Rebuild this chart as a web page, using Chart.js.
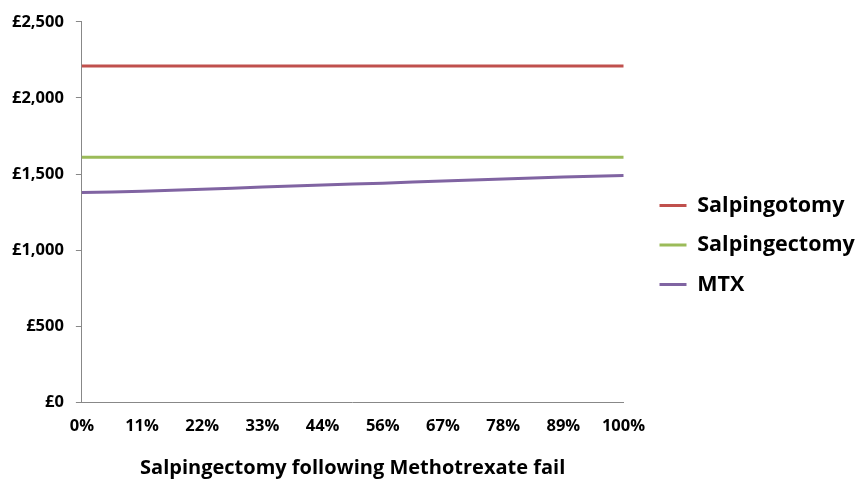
<!DOCTYPE html>
<html lang="en">
<head>
    <meta charset="UTF-8">
    <title>Cost chart</title>
    <style>
        body { margin: 0; background: #fff; }
        #wrap { width: 858px; height: 484px; }
    </style>
</head>
<body>
<div id="wrap">
  <canvas id="myChart"></canvas>
</div>
<script src="https://cdn.jsdelivr.net/npm/chart.js"></script>
<script>
    const labels = ['0%', '11%', '22%', '33%', '44%', '56%', '67%', '78%', '89%', '100%'];
    const salpingotomy = [2210, 2210, 2210, 2210, 2210, 2210, 2210, 2210, 2210, 2210];
    const salpingectomy = [1610, 1610, 1610, 1610, 1610, 1610, 1610, 1610, 1610, 1610];
    const mtx = [1378, 1386, 1400, 1414, 1428, 1440, 1454, 1467, 1480, 1490];

    const font = "'Open Sans', sans-serif";

    function series(label, data, colour) {
        return {
            label: label,
            data: data,
            borderColor: colour,
            backgroundColor: colour,
            borderWidth: 3,
            pointRadius: 0,
            tension: 0.3
        };
    }

    // leave extra room between plot and legend, and nudge the legend up a bit
    const legendGap = {
        id: 'legendGap',
        beforeLayout(chart) {
            const lg = chart.legend;
            if (lg && !lg._gapDone) {
                const fit = lg.fit;
                lg.fit = function () { fit.call(this); this.width += 20; };
                lg._gapDone = true;
            }
        },
        afterLayout(chart) {
            const lg = chart.legend;
            lg.left += 18;
            lg.top -= 7;
            lg.bottom -= 7;
        }
    };

    new Chart(document.getElementById('myChart'), {
        type: 'line',
        data: {
            labels: labels,
            datasets: [
                series('Salpingotomy', salpingotomy, '#C0504D'),
                series('Salpingectomy', salpingectomy, '#9BBB59'),
                series('MTX', mtx, '#8064A2')
            ]
        },
        plugins: [legendGap],
        options: {
            responsive: true,
            maintainAspectRatio: false,
            animation: false,
            layout: { padding: { top: 20, left: 0, right: 0, bottom: 0 } },
            plugins: {
                tooltip: { enabled: false },
                legend: {
                    position: 'right',
                    align: 'center',
                    labels: {
                        boxWidth: 27,
                        boxHeight: 0,
                        padding: 18,
                        color: '#000',
                        font: { family: font, size: 21.5, weight: 'bold' }
                    }
                }
            },
            scales: {
                x: {
                    offset: false,
                    grid: { display: false, drawOnChartArea: false, drawTicks: true, tickLength: 6, color: '#888' },
                    border: { color: '#888' },
                    ticks: { color: '#000', padding: 8, maxRotation: 0, font: { family: font, size: 16.5, weight: 'bold' } },
                    title: {
                        display: true,
                        text: 'Salpingectomy following Methotrexate fail',
                        color: '#000',
                        padding: { top: 12 },
                        font: { family: font, size: 20, weight: 'bold' }
                    }
                },
                y: {
                    min: 0,
                    max: 2500,
                    grid: { drawOnChartArea: false, tickLength: 6, color: '#888' },
                    border: { color: '#888' },
                    ticks: {
                        stepSize: 500,
                        color: '#000',
                        padding: 12,
                        font: { family: font, size: 16.5, weight: 'bold' },
                        callback: v => '£' + v.toLocaleString('en-GB')
                    }
                }
            }
        }
    });
</script>
</body>
</html>
